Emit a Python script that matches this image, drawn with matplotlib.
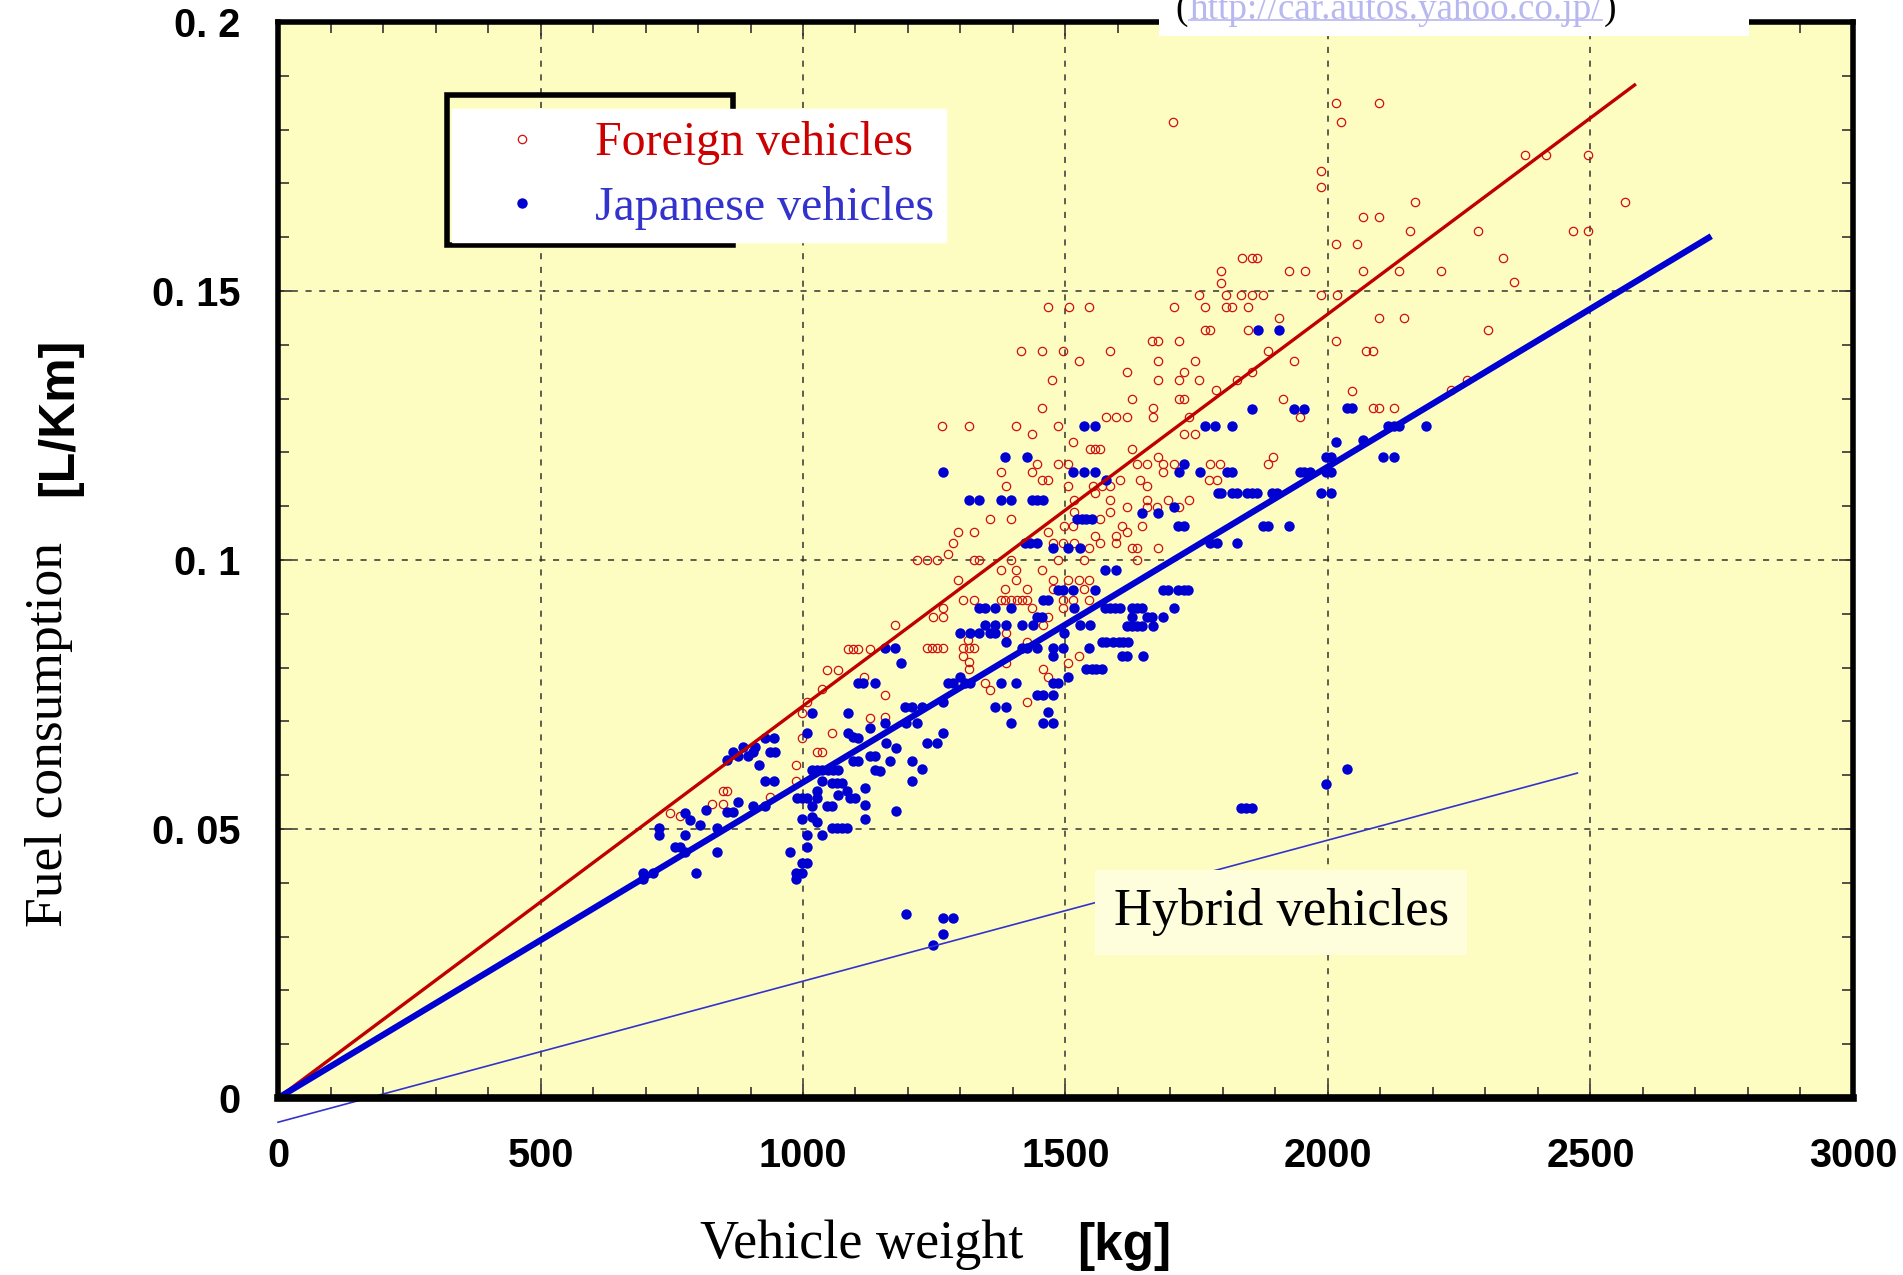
import matplotlib
matplotlib.use('Agg')
import matplotlib.pyplot as plt
from matplotlib.lines import Line2D
from matplotlib.patches import Rectangle
from matplotlib.ticker import MultipleLocator, FixedLocator, FixedFormatter

# (weight kg, fuel L/km)
foreign = [
    (747, .0529), (766, .0524), (826, .0547), (848, .0547), (848, .0570), (856, .0570), (937, .0560),
    (987, .0619), (987, .0589), (998, .0669), (998, .0715), (1007, .0737), (1036, .0760), (1046, .0796),
    (1067, .0796), (1055, .0678), (1026, .0644), (1036, .0644), (1085, .0835), (1096, .0835), (1105, .0835),
    (1128, .0835), (1117, .0783), (1128, .0706),
    (1265, .1250), (1317, .1250), (1406, .1250), (1436, .1234), (1456, .1282), (1486, .1250), (1515, .1219),
    (1547, .1206), (1556, .1206), (1566, .1206), (1577, .1265), (1596, .1265), (1617, .1265), (1626, .1206),
    (1666, .1282), (1666, .1265), (1726, .1234), (1747, .1234), (1736, .1265), (1636, .1178), (1655, .1178),
    (1686, .1178), (1706, .1178), (1775, .1178), (1676, .1191), (1686, .1164), (1377, .1164), (1387, .1137),
    (1445, .1178), (1436, .1164), (1456, .1149), (1467, .1149), (1486, .1178), (1505, .1178), (1505, .1137),
    (1517, .1112), (1517, .1090), (1515, .1064), (1498, .1064), (1556, .1124), (1553, .1138), (1569, .1138),
    (1585, .1138), (1585, .1112), (1604, .1149), (1642, .1149), (1655, .1137), (1585, .1090), (1566, .1076),
    (1617, .1099), (1655, .1112), (1655, .1099), (1674, .1099), (1696, .1112), (1717, .1099), (1736, .1112),
    (1774, .1149), (1788, .1149), (1356, .1076), (1396, .1076), (1296, .1053), (1326, .1053), (1285, .1031),
    (1276, .1011), (1217, .1001), (1236, .1001), (1255, .1001), (1326, .1001), (1336, .1001), (1396, .1001),
    (1486, .1001), (1536, .1001), (1467, .1053), (1477, .1031), (1496, .1031), (1517, .1031), (1545, .1022),
    (1556, .1044), (1566, .1031), (1596, .1044), (1596, .1031), (1607, .1063), (1617, .1053), (1626, .1022),
    (1636, .1022), (1636, .1001), (1676, .1022), (1646, .1063), (1296, .0963), (1377, .0982), (1406, .0982),
    (1406, .0963), (1456, .0982), (1476, .0963), (1505, .0963), (1525, .0963), (1545, .0963), (1385, .0946),
    (1385, .0926), (1377, .0926), (1396, .0926), (1407, .0926), (1417, .0926), (1426, .0926), (1426, .0946),
    (1436, .0910), (1476, .0946), (1496, .0926), (1496, .0910), (1515, .0926), (1535, .0946), (1545, .0926),
    (1467, .0895), (1457, .0879), (1305, .0926), (1326, .0926), (1266, .0910), (1247, .0895), (1266, .0895),
    (1236, .0836), (1245, .0836), (1255, .0836), (1266, .0836), (1305, .0836), (1317, .0836), (1326, .0836),
    (1305, .0821), (1317, .0810), (1317, .0797), (1315, .0851), (1387, .0864), (1426, .0848), (1387, .0808),
    (1175, .0879), (1156, .0749), (1156, .0709), (1347, .0771), (1356, .0759), (1426, .0737), (1457, .0797),
    (1467, .0783), (1505, .0808), (1525, .0821),
    (1467, .1470), (1506, .1470), (1545, .1470), (1415, .1389), (1456, .1389), (1496, .1389), (1526, .1370),
    (1475, .1335), (1585, .1389), (1617, .1350), (1664, .1407), (1677, .1407), (1716, .1407), (1676, .1370),
    (1676, .1335), (1717, .1335), (1726, .1350), (1747, .1370), (1755, .1335), (1717, .1299), (1726, .1299),
    (1626, .1299), (1706, .1470), (1755, .1492), (1766, .1470), (1796, .1515), (1805, .1492), (1805, .1470),
    (1818, .1470), (1834, .1492), (1856, .1492), (1877, .1492), (1847, .1470), (1765, .1428), (1775, .1428),
    (1847, .1428), (1907, .1449), (1886, .1389), (1936, .1370), (1986, .1492), (2017, .1492), (2015, .1407),
    (1786, .1316), (1826, .1335), (1856, .1350), (1915, .1299), (1946, .1265), (1886, .1178), (1896, .1192),
    (1794, .1178),
    (2015, .1850), (2097, .1850), (2024, .1815), (1986, .1723), (1986, .1694), (2165, .1666), (2066, .1638),
    (2097, .1638), (2156, .1612), (2015, .1587), (2055, .1587), (1956, .1538), (2066, .1538), (2135, .1538),
    (2216, .1538), (2285, .1612), (2334, .1562), (2355, .1516), (2376, .1752), (2415, .1752), (2496, .1752),
    (2566, .1666), (2466, .1612), (2496, .1612), (2097, .1450), (2145, .1450), (2072, .1389), (2085, .1389),
    (2304, .1428), (2045, .1315), (2085, .1282), (2097, .1282), (2126, .1282), (2234, .1316), (2264, .1335),
    (1704, .1815), (1836, .1562), (1856, .1562), (1865, .1562), (1796, .1537), (1926, .1537),
]

japanese = [
    (726, .0501), (726, .0489), (756, .0467), (766, .0467), (775, .0458), (775, .0489), (775, .0529),
    (785, .0517), (804, .0508), (816, .0535), (836, .0501), (836, .0457), (796, .0419), (696, .0419),
    (715, .0419), (696, .0408), (855, .0532), (867, .0532), (877, .0551), (905, .0542), (928, .0542),
    (855, .0628), (867, .0644), (877, .0635), (886, .0653), (896, .0635), (905, .0644), (909, .0653),
    (917, .0619), (928, .0669), (945, .0669), (937, .0644), (947, .0644), (928, .0589), (945, .0589),
    (975, .0457), (987, .0419), (987, .0408), (998, .0419), (998, .0436), (1007, .0436), (1007, .0467),
    (1007, .0489), (998, .0518), (988, .0558), (998, .0558), (1007, .0558), (1017, .0542), (1017, .0523),
    (1026, .0514), (1026, .0558), (1026, .0570), (1036, .0489), (1036, .0589), (1017, .0610), (1026, .0610),
    (1036, .0610), (1048, .0610), (1058, .0610), (1067, .0610), (1055, .0585), (1064, .0585), (1074, .0585),
    (1067, .0563), (1083, .0570), (1090, .0557), (1099, .0557), (1045, .0542), (1055, .0542), (1055, .0501),
    (1064, .0501), (1074, .0501), (1083, .0501), (1007, .0678), (1017, .0715), (1085, .0715), (1085, .0678),
    (1096, .0672), (1105, .0669), (1096, .0627), (1105, .0627), (1118, .0576), (1118, .0545), (1118, .0518),
    (1128, .0635), (1137, .0635), (1128, .0687), (1137, .0610), (1147, .0607), (1166, .0627), (1177, .0650),
    (1177, .0534), (1207, .0627), (1207, .0589), (1226, .0611), (1236, .0659), (1255, .0659), (1158, .0659),
    (1105, .0771), (1115, .0771), (1137, .0771), (1196, .0342), (1266, .0335), (1285, .0335), (1266, .0304),
    (1247, .0284),
    (1156, .0836), (1175, .0836), (1186, .0808), (1156, .0697), (1197, .0697), (1217, .0697), (1194, .0727),
    (1207, .0727), (1226, .0727), (1267, .0678), (1267, .0737), (1277, .0771), (1286, .0771), (1299, .0783),
    (1309, .0771), (1318, .0771), (1366, .0727), (1387, .0727), (1396, .0697), (1377, .0771), (1406, .0771),
    (1445, .0749), (1458, .0749), (1476, .0749), (1467, .0717), (1457, .0697), (1476, .0697), (1477, .0771),
    (1486, .0771), (1505, .0783), (1476, .0836), (1476, .0821), (1496, .0836), (1497, .0864), (1417, .0836),
    (1426, .0836), (1445, .0836), (1545, .0836), (1528, .0879), (1547, .0879), (1299, .0864), (1318, .0864),
    (1336, .0864), (1347, .0879), (1356, .0864), (1366, .0864), (1366, .0879), (1387, .0879), (1387, .0848),
    (1417, .0879), (1438, .0879), (1336, .0910), (1347, .0910), (1366, .0910), (1396, .0910), (1445, .0895),
    (1455, .0895), (1458, .0926), (1467, .0926), (1486, .0944), (1496, .0944), (1515, .0944), (1517, .0910),
    (1556, .0944), (1569, .0848), (1578, .0848), (1591, .0848), (1601, .0848), (1610, .0848), (1620, .0848),
    (1607, .0821), (1617, .0821), (1647, .0821), (1540, .0797), (1550, .0797), (1559, .0797), (1569, .0797),
    (1575, .0910), (1585, .0910), (1594, .0910), (1604, .0910), (1626, .0910), (1636, .0910), (1645, .0910),
    (1626, .0895), (1655, .0895), (1664, .0895), (1617, .0878), (1626, .0878), (1636, .0878), (1645, .0878),
    (1666, .0878), (1686, .0895), (1706, .0910), (1686, .0944), (1696, .0944), (1715, .0944), (1725, .0944),
    (1734, .0944), (1575, .0982), (1596, .0982), (1505, .1022), (1528, .1022), (1476, .1022), (1423, .1031),
    (1432, .1031), (1445, .1031), (1521, .1076), (1531, .1076), (1540, .1076), (1550, .1076), (1645, .1087),
    (1677, .1087), (1706, .1099), (1715, .1064), (1725, .1064), (1775, .1031), (1788, .1031), (1515, .1164),
    (1535, .1164), (1556, .1164), (1577, .1149), (1717, .1164), (1726, .1178), (1756, .1164), (1791, .1124),
    (1385, .1191), (1426, .1191), (1266, .1164), (1317, .1112), (1336, .1112), (1377, .1112), (1396, .1112),
    (1436, .1112), (1445, .1112), (1458, .1112), (1535, .1250), (1556, .1250), (1766, .1250), (1785, .1250),
    (1866, .1428), (1907, .1428), (1856, .1281), (1936, .1281), (1955, .1281), (1818, .1250), (2015, .1219),
    (1996, .1192), (2006, .1192), (1946, .1163), (1955, .1163), (1966, .1163), (1996, .1163), (2006, .1163),
    (1807, .1163), (1818, .1163), (1796, .1124), (1817, .1124), (1826, .1124), (1845, .1124), (1855, .1124),
    (1864, .1124), (1893, .1124), (1902, .1124), (1986, .1124), (2006, .1124), (1877, .1064), (1886, .1064),
    (1926, .1064), (1826, .1031),
    (2036, .1282), (2046, .1282), (2115, .1250), (2126, .1250), (2135, .1250), (2186, .1250), (2066, .1223),
    (2105, .1191), (2126, .1191),
    (1834, .0540), (1844, .0540), (1855, .0540), (1996, .0583), (2036, .0611),
]

# fitted lines (end points)
foreign_fit_w = [0, 2584]
foreign_fit_fc = [0, 0.1883]
japanese_fit_w = [0, 2725]
japanese_fit_fc = [0, 0.1599]
hybrid_fit_w = [0, 2475]
hybrid_fit_fc = [-0.0045, 0.0604]

xticks = [0, 500, 1000, 1500, 2000, 2500, 3000]
yticks = [0, 0.05, 0.1, 0.15, 0.2]
ytick_labels = ['0', '0. 05', '0. 1', '0. 15', '0. 2']

serif = ['Liberation Serif', 'DejaVu Serif']
gothic = ['Liberation Sans', 'DejaVu Sans']

foreign_w, foreign_fc = zip(*foreign)
japanese_w, japanese_fc = zip(*japanese)

fig = plt.figure(figsize=(19.03, 12.75), dpi=100)
ax = fig.add_axes([0.1461, 0.1388, 0.8276, 0.8439])
ax.set_facecolor('#FDFDC2')

ax.plot(foreign_w, foreign_fc, 'o', ls='none', ms=6, mfc='none', mec='#D01010', mew=0.9, zorder=2)
ax.plot(japanese_w, japanese_fc, 'o', ls='none', ms=7.5, mfc='#0000D0', mec='#0000D0', mew=0, zorder=2)
ax.plot(foreign_fit_w, foreign_fit_fc, color='#C00000', lw=2.4, zorder=3)
ax.plot(japanese_fit_w, japanese_fit_fc, color='#0000D0', lw=4.5, zorder=3)
ax.plot(hybrid_fit_w, hybrid_fit_fc, color='#3333CC', lw=1.2, zorder=3, clip_on=False)

ax.set_xlim(0, 3000)
ax.set_ylim(0, 0.2)
ax.xaxis.set_major_locator(FixedLocator(xticks))
ax.yaxis.set_major_locator(FixedLocator(yticks))
ax.yaxis.set_major_formatter(FixedFormatter(ytick_labels))
ax.xaxis.set_minor_locator(MultipleLocator(100))
ax.yaxis.set_minor_locator(MultipleLocator(0.01))
ax.tick_params(which='both', direction='in', top=True, right=True, width=1.2, color='#333333')
ax.tick_params(which='major', length=10)
ax.tick_params(which='minor', length=8)
ax.tick_params(axis='x', which='major', pad=28)
ax.tick_params(axis='y', which='major', pad=27)
for lab in ax.get_xticklabels() + ax.get_yticklabels():
    lab.set_family(gothic)
    lab.set_fontweight('bold')
    lab.set_fontsize(28.5)
ax.grid(True, which='major', ls=(0, (4, 5)), color='#333333', lw=1.1)
for s in ax.spines.values():
    s.set_linewidth(4)
    s.set_zorder(4)
ax.spines['bottom'].set_linewidth(5.5)

# legend
handles = [Line2D([], [], ls='none', marker='o', ms=6, mfc='none', mec='#D01010', mew=0.9),
           Line2D([], [], ls='none', marker='o', ms=7.5, mfc='#0000D0', mec='#0000D0', mew=0)]
leg = ax.legend(handles, ['Foreign vehicles', 'Japanese vehicles'], loc='upper left',
                bbox_to_anchor=(0.1105, 0.9189), borderaxespad=0, frameon=True, fancybox=False,
                facecolor='white', edgecolor='white', framealpha=1, numpoints=1,
                prop={'family': serif, 'size': 34.5}, handlelength=2.4, handletextpad=0.33,
                borderpad=0.25, labelspacing=0.43)
leg.get_texts()[0].set_color('#CC0000')
leg.get_texts()[1].set_color('#3333CC')
ax.add_patch(Rectangle((0.107, 0.793), 0.182, 0.139, transform=ax.transAxes, fill=False,
                       ec='black', lw=4, zorder=4.5))

# hybrid label
ax.text(0.5307, 0.1727, 'Hybrid vehicles', transform=ax.transAxes, fontsize=38, family=serif,
        color='black', va='center', ha='left', zorder=4,
        bbox=dict(boxstyle='square,pad=0.35', fc='#FEFEDC', ec='none'))

# axis labels
fig.text(0.368, 0.024, 'Vehicle weight', fontsize=39, family=serif, ha='left', va='center')
fig.text(0.566, 0.022, '[kg]', fontsize=37, family=gothic, fontweight='bold', ha='left', va='center')
fig.text(0.026, 0.424, 'Fuel consumption', fontsize=38.5, family=serif, rotation=90, ha='center', va='center')
fig.text(0.031, 0.673, '[L/Km]', fontsize=36, family=gothic, fontweight='bold', rotation=90,
         ha='center', va='center')

# source note at the top, partly cut off
fig.add_artist(Rectangle((0.609, 0.9718), 0.31, 0.04, transform=fig.transFigure,
                         fc='white', ec='none', zorder=5))
url_y = 0.9925
t1 = fig.text(0.6174, url_y, '(', fontsize=27, family=serif, ha='left', va='center', zorder=6)
fig.canvas.draw()
b1 = t1.get_window_extent().transformed(fig.transFigure.inverted())
t2 = fig.text(b1.x1 + 0.001, url_y, 'http://car.autos.yahoo.co.jp/', fontsize=26.7, family=serif,
              color='#B8B8F0', ha='left', va='center', zorder=6)
fig.canvas.draw()
b2 = t2.get_window_extent().transformed(fig.transFigure.inverted())
fig.text(b2.x1 + 0.001, url_y, ')', fontsize=27, family=serif, ha='left', va='center', zorder=6)
fig.add_artist(Line2D([b2.x0, b2.x1], [b2.y0 + 0.005, b2.y0 + 0.005], transform=fig.transFigure,
                      color='#B8B8F0', lw=1.2, zorder=6))

fig.savefig('out.png', dpi=100)
